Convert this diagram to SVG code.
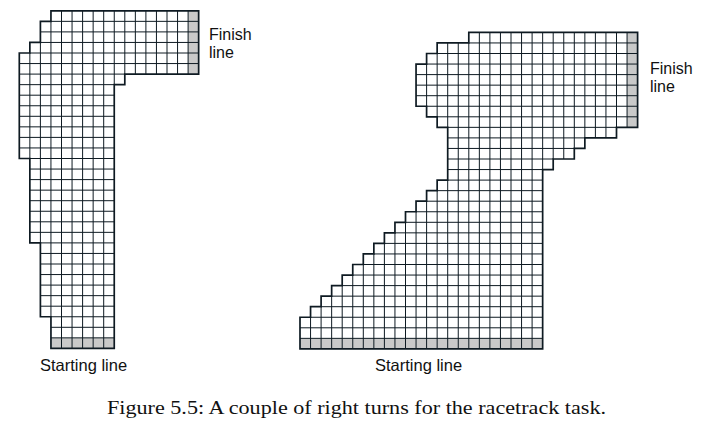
<svg xmlns="http://www.w3.org/2000/svg" width="705" height="448" viewBox="0 0 705 448">
<style>
.bg{fill:#ffffff}
.cell{fill:#ffffff}
.goal{fill:#c9c9c9}
.grid{fill:none;stroke:#0e1a22;stroke-width:1;vector-effect:non-scaling-stroke}
.edge{fill:none;stroke:#0e1a22;stroke-width:1.7;stroke-linejoin:miter;vector-effect:non-scaling-stroke}
.lbl{font-family:"Liberation Sans",Arial,sans-serif;font-size:16.5px;fill:#111}
.fin{font-family:"Liberation Sans",Arial,sans-serif;font-size:16px;fill:#111}
.cap{font-family:"Liberation Serif","Times New Roman",serif;font-size:18.5px;fill:#111}
</style>
<rect class="bg" x="0" y="0" width="705" height="448"/>
<g id="track1" transform="translate(19.3 10.8) scale(10.55)">
<polygon class="cell" points="3,0 17,0 17,6 10,6 10,7 9,7 9,32 3,32 3,29 2,29 2,22 1,22 1,14 0,14 0,4 1,4 1,3 2,3 2,1 3,1"/>
<rect class="goal" x="16" y="0" width="1" height="6"/>
<rect class="goal" x="3" y="31" width="6" height="1"/>
<path class="grid" d="M3,1H17M2,2H17M2,3H17M1,4H17M0,5H17M0,6H10M0,7H9M0,8H9M0,9H9M0,10H9M0,11H9M0,12H9M0,13H9M1,14H9M1,15H9M1,16H9M1,17H9M1,18H9M1,19H9M1,20H9M1,21H9M2,22H9M2,23H9M2,24H9M2,25H9M2,26H9M2,27H9M2,28H9M3,29H9M3,30H9M3,31H9
M1,4V14M2,3V22M3,1V29M4,0V32M5,0V32M6,0V32M7,0V32M8,0V32M9,0V7M10,0V6M11,0V6M12,0V6M13,0V6M14,0V6M15,0V6M16,0V6"/>
<polygon class="edge" points="3,0 17,0 17,6 10,6 10,7 9,7 9,32 3,32 3,29 2,29 2,22 1,22 1,14 0,14 0,4 1,4 1,3 2,3 2,1 3,1"/>
</g>
<g id="track2" transform="translate(300 32.4) scale(10.55)">
<polygon class="cell" points="16,0 32,0 32,9 30,9 30,10 27,10 27,11 26,11 26,12 24,12 24,13 23,13 23,30 0,30 0,27 1,27 1,26 2,26 2,25 3,25 3,24 4,24 4,23 5,23 5,22 6,22 6,21 7,21 7,20 8,20 8,19 9,19 9,18 10,18 10,17 11,17 11,16 12,16 12,15 13,15 13,14 14,14 14,9 13,9 13,8 12,8 12,7 11,7 11,3 12,3 12,2 13,2 13,1 16,1"/>
<rect class="goal" x="31" y="0" width="1" height="9"/>
<rect class="goal" x="0" y="29" width="23" height="1"/>
<path class="grid" d="M16,1H32M13,2H32M12,3H32M11,4H32M11,5H32M11,6H32M12,7H32M13,8H32M14,9H30M14,10H27M14,11H26M14,12H24M14,13H23M14,14H23M13,15H23M12,16H23M11,17H23M10,18H23M9,19H23M8,20H23M7,21H23M6,22H23M5,23H23M4,24H23M3,25H23M2,26H23M1,27H23M0,28H23M0,29H23
M1,27V30M2,26V30M3,25V30M4,24V30M5,23V30M6,22V30M7,21V30M8,20V30M9,19V30M10,18V30M11,17V30M12,3V7M12,16V30M13,2V8M13,15V30M14,1V9M14,14V30M15,1V30M16,1V30M17,0V30M18,0V30M19,0V30M20,0V30M21,0V30M22,0V30M23,0V13M24,0V12M25,0V12M26,0V11M27,0V10M28,0V10M29,0V10M30,0V9M31,0V9"/>
<polygon class="edge" points="16,0 32,0 32,9 30,9 30,10 27,10 27,11 26,11 26,12 24,12 24,13 23,13 23,30 0,30 0,27 1,27 1,26 2,26 2,25 3,25 3,24 4,24 4,23 5,23 5,22 6,22 6,21 7,21 7,20 8,20 8,19 9,19 9,18 10,18 10,17 11,17 11,16 12,16 12,15 13,15 13,14 14,14 14,9 13,9 13,8 12,8 12,7 11,7 11,3 12,3 12,2 13,2 13,1 16,1"/>
</g>
<g id="labels">
<text class="fin" x="209" y="40">Finish<tspan x="209" y="58">line</tspan></text>
<text class="fin" x="650" y="74">Finish<tspan x="650" y="92">line</tspan></text>
<text class="lbl" x="40" y="370.5">Starting line</text>
<text class="lbl" x="375" y="371">Starting line</text>
<text class="cap" x="107" y="414" textLength="499" lengthAdjust="spacingAndGlyphs">Figure 5.5: A couple of right turns for the racetrack task.</text>
</g>
</svg>
